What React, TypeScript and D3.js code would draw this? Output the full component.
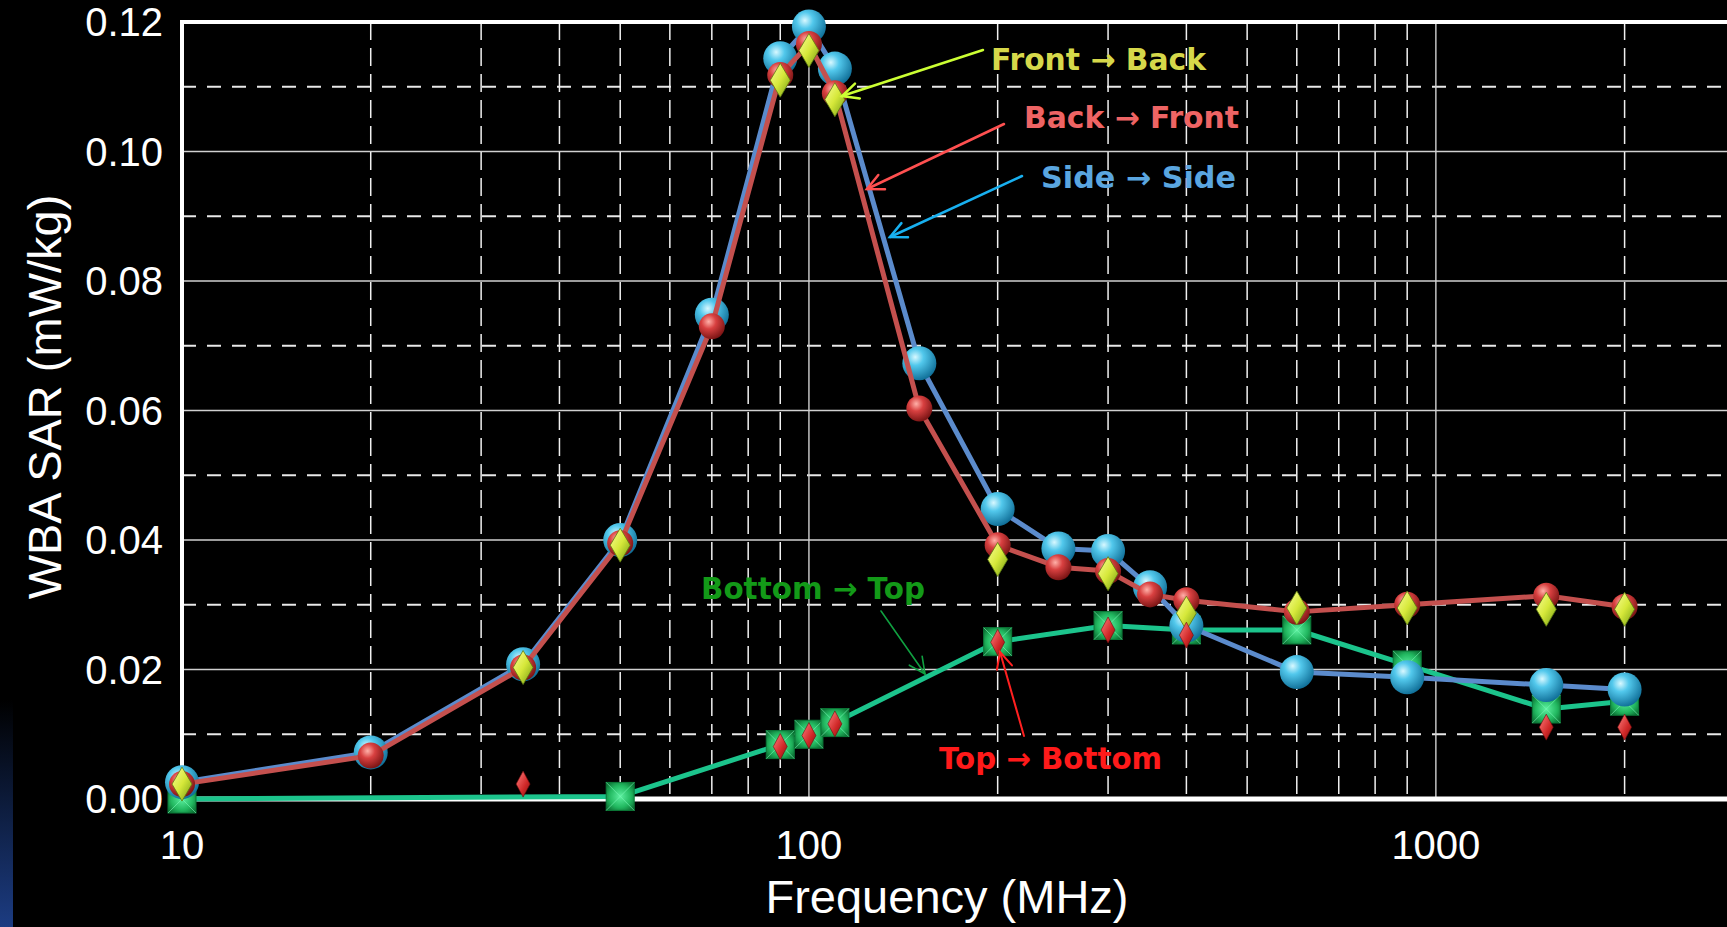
import * as d3 from "d3";

const W = 1727;
const H = 927;
const plot = { left: 182, right: 1735, top: 22, bottom: 799 };

// Side -> Side (cyan spheres, steel blue line)
const sideFreq = [10, 20, 35, 50, 70, 90, 100, 110, 150, 200, 250, 300, 350, 400, 600, 900, 1500, 2000];
const sideSar = [0.0026, 0.0072, 0.0208, 0.04, 0.0748, 0.1144, 0.1193, 0.1128, 0.0673, 0.0448, 0.0387, 0.0383, 0.0327, 0.0268, 0.0196, 0.0188, 0.0176, 0.0169];

// Back -> Front (red spheres, red line)
const backFreq = [10, 20, 35, 50, 70, 90, 100, 110, 150, 200, 250, 300, 350, 400, 600, 900, 1500, 2000];
const backSar = [0.0023, 0.0067, 0.0203, 0.0395, 0.073, 0.1118, 0.1166, 0.109, 0.0603, 0.0392, 0.0358, 0.0352, 0.0316, 0.0307, 0.0289, 0.03, 0.0314, 0.0297];

// Front -> Back (yellow diamonds, markers only)
const frontFreq = [10, 35, 50, 90, 100, 110, 200, 300, 400, 600, 900, 1500, 2000];
const frontSar = [0.0023, 0.0203, 0.0392, 0.111, 0.1156, 0.108, 0.037, 0.0348, 0.0287, 0.0295, 0.0295, 0.0293, 0.0293];

// Bottom -> Top (green squares, teal line)
const bottomFreq = [10, 50, 90, 100, 110, 200, 300, 400, 600, 900, 1500, 2000];
const bottomSar = [0, 0.0004, 0.0084, 0.01, 0.0118, 0.0243, 0.0268, 0.0261, 0.0261, 0.0207, 0.0139, 0.0151];

// Top -> Bottom (small red diamonds, markers only)
const topFreq = [35, 90, 100, 110, 200, 300, 400, 1500, 2000];
const topSar = [0.0023, 0.0081, 0.0098, 0.0116, 0.0242, 0.0261, 0.0253, 0.0111, 0.0111];

const yTicks = [0, 0.02, 0.04, 0.06, 0.08, 0.1, 0.12];
const yMinor = [0.01, 0.03, 0.05, 0.07, 0.09, 0.11];
const xTicks = [10, 100, 1000];
const xMinor = [20, 30, 40, 50, 60, 70, 80, 90, 200, 300, 400, 500, 600, 700, 800, 900, 2000, 3000];

const annotations = [
  { text: "Front → Back", color: "#d6d84a", x: 991, y: 70, len: 215, arrow: "#ccff33", from: [983, 50], to: [842, 96], w: 2.5 },
  { text: "Back → Front", color: "#ee6464", x: 1024, y: 128, len: 215, arrow: "#ff5050", from: [1004, 124], to: [867, 189], w: 2.5 },
  { text: "Side → Side", color: "#5aa6e0", x: 1041, y: 188, len: 195, arrow: "#18b0f0", from: [1022, 176], to: [890, 237], w: 2.5 },
  { text: "Bottom → Top", color: "#139a18", x: 701, y: 599, len: 224, arrow: "#10a040", from: [881, 611], to: [925, 674], w: 1.6 },
  { text: "Top → Bottom", color: "#ff1a1a", x: 939, y: 769, len: 223, arrow: "#ff2020", from: [1024, 736], to: [1000, 652], w: 2 },
];

const zip = (f: number[], v: number[]) => f.map((d, i) => [d, v[i]] as [number, number]);

function Arrow({ from, to, color, w }: { from: number[]; to: number[]; color: string; w: number }) {
  const ang = Math.atan2(to[1] - from[1], to[0] - from[0]);
  const L = 18;
  const a1 = ang + Math.PI - 0.45;
  const a2 = ang + Math.PI + 0.45;
  const p1 = [to[0] + L * Math.cos(a1), to[1] + L * Math.sin(a1)];
  const p2 = [to[0] + L * Math.cos(a2), to[1] + L * Math.sin(a2)];
  return (
    <g stroke={color} strokeWidth={w} fill="none" strokeLinecap="round">
      <line x1={from[0]} y1={from[1]} x2={to[0]} y2={to[1]} />
      <polyline points={`${p1[0]},${p1[1]} ${to[0]},${to[1]} ${p2[0]},${p2[1]}`} />
    </g>
  );
}

export default function App() {
  const x = d3.scaleLog().domain([10, 3000]).range([plot.left, plot.right]);
  const y = d3.scaleLinear().domain([0, 0.12]).range([plot.bottom, plot.top]);
  const line = d3
    .line<[number, number]>()
    .x((d) => x(d[0]))
    .y((d) => y(d[1]));

  const side = zip(sideFreq, sideSar);
  const back = zip(backFreq, backSar);
  const front = zip(frontFreq, frontSar);
  const bottom = zip(bottomFreq, bottomSar);
  const top = zip(topFreq, topSar);

  const axisFont = "'Liberation Sans', Arial, sans-serif";
  const noteFont = "'Comic Sans MS', 'DejaVu Sans', sans-serif";

  return (
    <svg width={W} height={H} style={{ position: "absolute", left: 0, top: 0, background: "#000" }}>
      <defs>
        <radialGradient id="cyan" cx="38%" cy="32%" r="70%">
          <stop offset="0%" stopColor="#d8f8ff" />
          <stop offset="35%" stopColor="#52c8ec" />
          <stop offset="100%" stopColor="#106f98" />
        </radialGradient>
        <radialGradient id="red" cx="38%" cy="32%" r="70%">
          <stop offset="0%" stopColor="#ffb0a8" />
          <stop offset="40%" stopColor="#d84040" />
          <stop offset="100%" stopColor="#7a1414" />
        </radialGradient>
        <linearGradient id="yellow" x1="0" y1="0" x2="1" y2="1">
          <stop offset="0%" stopColor="#fbff9a" />
          <stop offset="50%" stopColor="#d6e83a" />
          <stop offset="100%" stopColor="#6f9a10" />
        </linearGradient>
        <radialGradient id="green" cx="50%" cy="50%" r="65%">
          <stop offset="0%" stopColor="#5cf0a0" />
          <stop offset="60%" stopColor="#22b860" />
          <stop offset="100%" stopColor="#0a6a30" />
        </radialGradient>
        <linearGradient id="smallred" x1="0" y1="0" x2="1" y2="1">
          <stop offset="0%" stopColor="#ff8080" />
          <stop offset="60%" stopColor="#d02828" />
          <stop offset="100%" stopColor="#801010" />
        </linearGradient>
        <linearGradient id="strip" x1="0" y1="0" x2="0" y2="1">
          <stop offset="0%" stopColor="#000" />
          <stop offset="100%" stopColor="#1c3c82" />
        </linearGradient>
      </defs>

      <rect width={W} height={H} fill="#000" />
      <rect x={0} y={700} width={13} height={H - 700} fill="url(#strip)" />

      {/* grid */}
      <g>
        {yTicks.slice(1, -1).map((t) => (
          <line key={t} x1={plot.left} x2={W} y1={y(t)} y2={y(t)} stroke="#d0d0d0" strokeWidth={1.6} />
        ))}
        {yMinor.map((t) => (
          <line key={t} x1={plot.left} x2={W} y1={y(t)} y2={y(t)} stroke="#e8e8e8" strokeWidth={1.8} strokeDasharray="14 11" />
        ))}
        {xTicks.slice(1).map((t) => (
          <line key={t} x1={x(t)} x2={x(t)} y1={plot.top} y2={plot.bottom} stroke="#d0d0d0" strokeWidth={1.4} />
        ))}
        {xMinor.map((t) => (
          <line key={t} x1={x(t)} x2={x(t)} y1={plot.top} y2={plot.bottom} stroke="#f0f0f0" strokeWidth={1.5} strokeDasharray="18 8" />
        ))}
      </g>

      {/* frame */}
      <g stroke="#fff" fill="none">
        <line x1={plot.left} x2={W} y1={plot.top} y2={plot.top} strokeWidth={4} />
        <line x1={plot.left} x2={plot.left} y1={plot.top - 2} y2={plot.bottom} strokeWidth={4} />
        <line x1={plot.left} x2={W} y1={plot.bottom} y2={plot.bottom} strokeWidth={5} />
      </g>

      {/* tick labels */}
      <g fill="#fff" fontFamily={axisFont} fontSize={40}>
        {yTicks.map((t) => (
          <text key={t} x={163} y={y(t)} textAnchor="end" dominantBaseline="central">
            {d3.format(".2f")(t)}
          </text>
        ))}
        {xTicks.map((t) => (
          <text key={t} x={x(t)} y={859} textAnchor="middle">
            {t}
          </text>
        ))}
      </g>
      <text x={947} y={913} textAnchor="middle" fill="#fff" fontFamily={axisFont} fontSize={47}>
        Frequency (MHz)
      </text>
      <text
        transform="translate(44,397) rotate(-90)"
        textAnchor="middle"
        dominantBaseline="central"
        fill="#fff"
        fontFamily={axisFont}
        fontSize={47}
      >
        WBA SAR (mW/kg)
      </text>

      {/* Bottom -> Top */}
      <path d={line(bottom) ?? ""} fill="none" stroke="#1cc48c" strokeWidth={5} strokeLinejoin="round" />
      {bottom.map((d, i) => (
        <g key={i} transform={`translate(${x(d[0])},${y(d[1])})`}>
          <rect x={-14} y={-14} width={28} height={28} fill="url(#green)" stroke="#0b7a38" strokeWidth={1} />
          <path d="M-14,-14 L0,0 L14,-14 M-14,14 L0,0 L14,14" stroke="#7cf8b8" strokeWidth={1} opacity={0.6} fill="none" />
        </g>
      ))}

      {/* Side -> Side */}
      <path d={line(side) ?? ""} fill="none" stroke="#5b8bcc" strokeWidth={5} strokeLinejoin="round" />
      {side.map((d, i) => (
        <circle key={i} cx={x(d[0])} cy={y(d[1])} r={17} fill="url(#cyan)" />
      ))}

      {/* Back -> Front */}
      <path d={line(back) ?? ""} fill="none" stroke="#c4504e" strokeWidth={5} strokeLinejoin="round" />
      {back.map((d, i) => (
        <circle key={i} cx={x(d[0])} cy={y(d[1])} r={13} fill="url(#red)" />
      ))}

      {/* Front -> Back */}
      {front.map((d, i) => (
        <path
          key={i}
          transform={`translate(${x(d[0])},${y(d[1])})`}
          d="M0,-17 L10,0 L0,17 L-10,0 Z"
          fill="url(#yellow)"
          stroke="#5a7a10"
          strokeWidth={0.8}
        />
      ))}

      {/* Top -> Bottom */}
      {top.map((d, i) => (
        <path
          key={i}
          transform={`translate(${x(d[0])},${y(d[1])})`}
          d="M0,-13 L7,0 L0,13 L-7,0 Z"
          fill="url(#smallred)"
          stroke="#6a0a0a"
          strokeWidth={0.6}
        />
      ))}

      {/* annotations */}
      {annotations.map((a) => (
        <g key={a.text}>
          <Arrow from={a.from} to={a.to} color={a.arrow} w={a.w} />
          <text
            x={a.x}
            y={a.y}
            fill={a.color}
            fontFamily={noteFont}
            fontWeight="bold"
            fontSize={30}
            textLength={a.len}
            lengthAdjust="spacingAndGlyphs"
          >
            {a.text}
          </text>
        </g>
      ))}
    </svg>
  );
}
